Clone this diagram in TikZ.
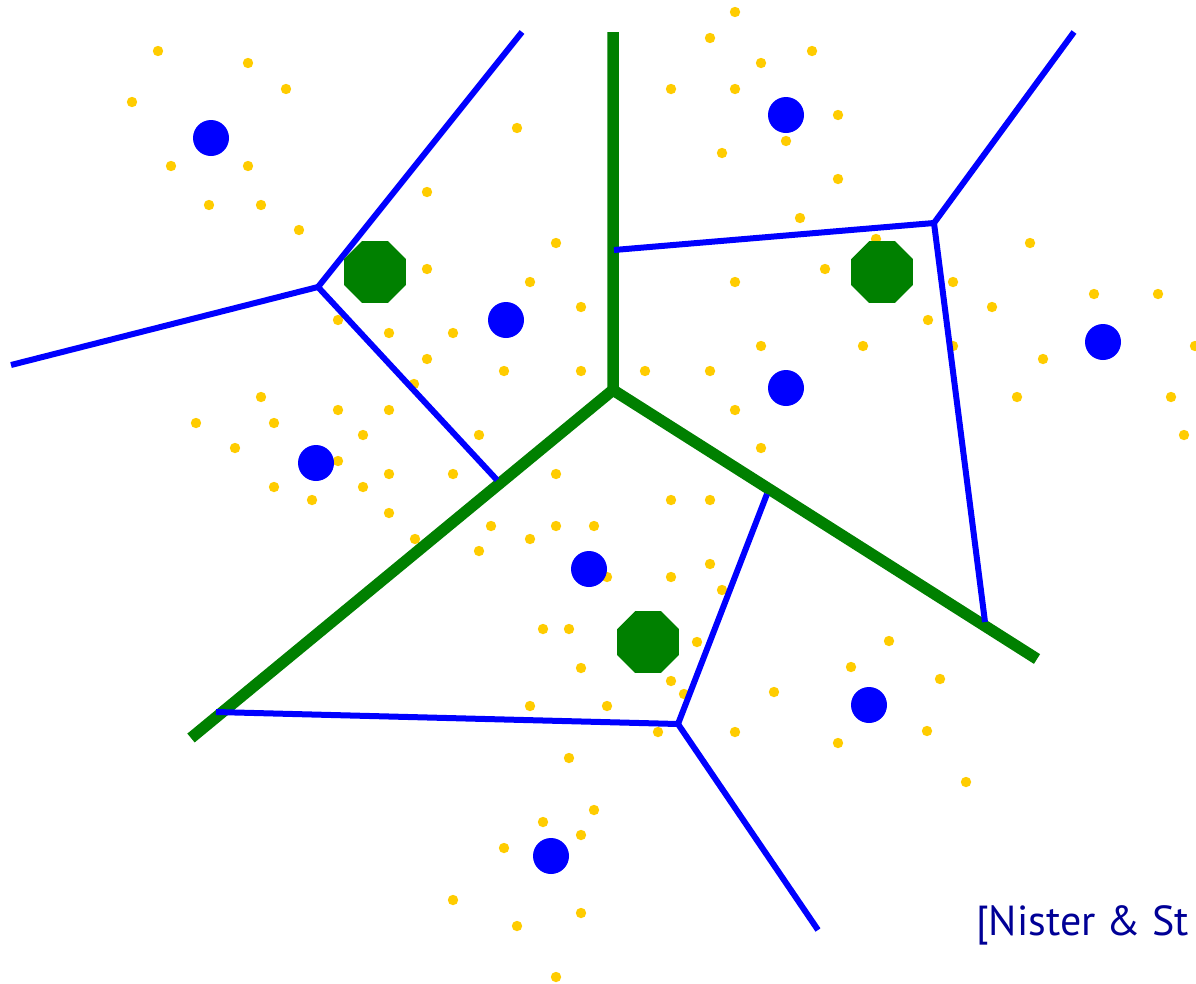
\documentclass[tikz,border=0pt]{standalone}
\usepackage{fontspec}
\usepackage{tikz}
\usetikzlibrary{shapes.geometric}
\newfontfamily\citefont{PT Sans}
\definecolor{cellgreen}{RGB}{0,128,0}
\definecolor{pointyellow}{RGB}{255,204,0}
\definecolor{citeblue}{RGB}{0,0,150}

\begin{document}
\begin{tikzpicture}[x=1pt, y=-1pt,
    coarseline/.style={draw=cellgreen, line width=11.5pt},
    fineline/.style={draw=blue, line width=6pt},
    coarsecenter/.style={regular polygon, regular polygon sides=8, fill=cellgreen, minimum size=67pt, inner sep=0pt},
    finecenter/.style={circle, fill=blue, minimum size=36pt, inner sep=0pt}]
    \useasboundingbox (0,0) rectangle (1196,983);

    % Data points
    \foreach \x/\y in {158/51, 248/63, 286/89, 132/102, 171/166, 248/166, 209/205, 261/205, 299/230,
        517/128, 427/192, 556/243, 427/269, 530/282, 581/307, 338/320, 389/333, 453/333, 427/359,
        504/371, 581/371, 414/384, 261/397, 196/423, 274/423, 338/410, 389/410, 363/435, 479/435,
        235/448, 338/461, 389/474, 453/474, 556/474, 274/487, 363/487, 312/500,
        735/12, 710/38, 812/51, 761/63, 671/89, 735/89, 838/115, 786/141, 722/153, 838/179,
        800/218, 876/239, 1030/243, 825/269, 735/282, 953/282, 992/307, 928/320, 1094/294,
        1158/294, 1195/346, 761/346, 863/346, 953/346, 1043/359, 645/371, 710/371, 1017/397,
        1171/397, 735/410, 1184/435, 761/448, 671/500, 710/500,
        389/513, 415/539, 491/526, 530/539, 556/526, 594/526, 479/551, 607/577, 710/564, 671/577,
        722/590, 543/629, 569/629, 697/642, 581/668, 671/681, 684/694, 530/706, 607/706, 658/732,
        735/732, 569/758, 594/810, 543/822, 581/835, 504/848, 453/900, 581/913, 517/926, 556/977,
        889/641, 851/667, 940/679, 774/692, 927/731, 838/743, 966/782} {
        \fill[pointyellow] (\x,\y) circle (5.2pt);
    }

    % Coarse cells (top level)
    \coordinate (gc) at (613,390);
    \coordinate (gtop) at (613,32);
    \coordinate (gleft) at (191,738);
    \coordinate (gright) at (1037,659);
    \draw[coarseline] (gtop) -- (gc) -- (gright);
    \draw[coarseline] (gc) -- (gleft);

    % Fine cells (second level)
    \coordinate (ba) at (318,287);
    \coordinate (bb) at (934,223);
    \coordinate (bc) at (678,724);
    \draw[fineline] (ba) -- (522,32);
    \draw[fineline] (ba) -- (11,365);
    \draw[fineline] (ba) -- (497,480);
    \draw[fineline] (bb) -- (614,250);
    \draw[fineline] (bb) -- (1074,32);
    \draw[fineline] (bb) -- (985,622);
    \draw[fineline] (bc) -- (216,712);
    \draw[fineline] (bc) -- (767,494);
    \draw[fineline] (bc) -- (818,930);

    % Cluster centers
    \foreach \n/\x/\y in {1/375/272, 2/882/272, 3/648/642} {
        \node[coarsecenter] (g\n) at (\x,\y) {};
    }
    \foreach \n/\x/\y in {1/211/138, 2/506/320, 3/316/463, 4/786/115, 5/786/388,
        6/1103/342, 7/589/569, 8/869/705, 9/551/856} {
        \node[finecenter] (b\n) at (\x,\y) {};
    }

    % Citation
    \node[anchor=base west, inner sep=0pt, text=citeblue, font=\citefont\fontsize{42}{48}\selectfont] (cite) at (976,935) {[Nister \& St};
\end{tikzpicture}
\end{document}
